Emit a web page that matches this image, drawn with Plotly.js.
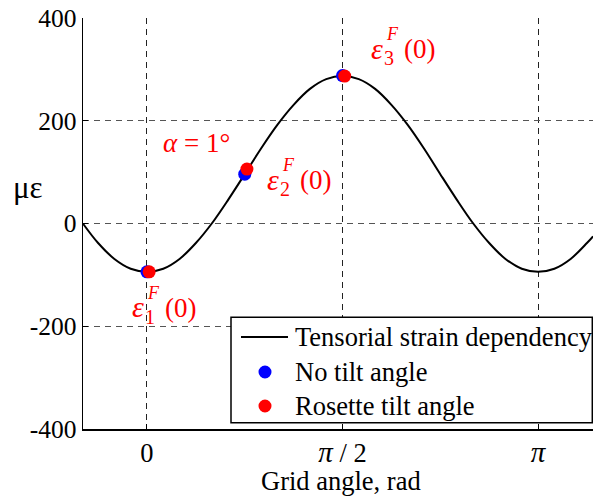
<!DOCTYPE html>
<html>
<head>
<meta charset="utf-8">
<script src="https://cdn.plot.ly/plotly-3.0.1.min.js"></script>
<style>html,body{margin:0;padding:0;background:#fff;}#chart{width:593px;height:497px;}</style>
</head>
<body>
<div id="chart"></div>
<script>
// Curve: grid angle (degrees) and tensorial strain (microstrain)
var curveAngleDeg = [-29.5, -22.5, -15, -7.5, 0, 7.5, 15, 22.5, 30, 37.5, 45, 52.5, 60, 67.5, 75, 82.5, 90,
                     97.5, 105, 112.5, 120, 127.5, 135, 142.5, 150, 157.5, 165, 172.5, 180, 187.5, 195, 202.5, 205.3];
var curveStrain   = [0, -38, -69, -88, -94, -88, -69, -38, 1, 47, 96, 146, 192, 231, 262, 281, 287,
                     281, 262, 231, 192, 146, 96, 47, 1, -38, -69, -88, -94, -88, -69, -38, -25];

// No tilt angle points (blue)
var noTiltAngleDeg = [0, 45, 90];
var noTiltStrain   = [-94, 96, 288];

// Rosette tilt angle points (red), tilt alpha = 1 degree
var tiltAngleDeg = [1, 46, 91];
var tiltStrain   = [-94, 106, 287];

var seriesNames = ['Tensorial strain dependency', 'No tilt angle', 'Rosette tilt angle'];
var xTitle = 'Grid angle, rad';
var yTitle = 'με';

var xTickVals = [0, Math.PI / 2, Math.PI];
var xTickText = ['0', '<span style="font-size:29px"><i>π</i></span> / 2', '<span style="font-size:29px"><i>π</i></span>'];
var yTickVals = [-400, -200, 0, 200, 400];
var yTickText = ['-400', '-200', '0', '200', '400'];

function toRad(a) { return a.map(function (d) { return d * Math.PI / 180; }); }

var FONT = '"Liberation Serif", "Times New Roman", serif';
var RED = '#ff0000';
var BLUE = '#0000ff';

var traces = [
  {x: toRad(curveAngleDeg), y: curveStrain, mode: 'lines', name: seriesNames[0],
   line: {color: '#000', width: 2, shape: 'spline', smoothing: 1}},
  {x: toRad(noTiltAngleDeg), y: noTiltStrain, mode: 'markers', name: seriesNames[1],
   marker: {color: BLUE, size: 13}},
  {x: toRad(tiltAngleDeg), y: tiltStrain, mode: 'markers', name: seriesNames[2],
   marker: {color: RED, size: 13}}
];

// plot area in pixels
var L = 83, R = 593, T = 18, B = 429;
function px(x) { return (x - L) / (R - L); }
function py(y) { return (B - y) / (B - T); }

var ann = [];
function txt(x, y, text, size, color, xa) {
  ann.push({xref: 'paper', yref: 'paper', x: px(x), y: py(y), text: text, showarrow: false,
            xanchor: xa || 'center', yanchor: 'middle', font: {family: FONT, size: size, color: color}});
}
function epsLabel(ex, ey, sub) {
  txt(ex, ey - 1, '<i>ε</i>', 30, RED);
  txt(ex + 15, ey - 15, '<i>F</i>', 18, RED);
  txt(ex + 12, ey + 9, sub, 20, RED);
  txt(ex + 42, ey, '(0)', 27, RED);
}
epsLabel(138, 308, '1');
epsLabel(273, 180, '2');
epsLabel(377, 49, '3');
txt(196, 143, '<i>α</i> = 1°', 27, RED);
txt(28, 187, yTitle, 31, '#000');
txt(341, 481, xTitle, 26.5, '#000');

// legend (drawn by hand)
var shapes = [
  {type: 'rect', xref: 'paper', yref: 'paper', x0: px(231), x1: px(592.3), y0: py(422.7), y1: py(317.3),
   line: {color: '#000', width: 1.5}, fillcolor: '#fff', layer: 'above'},
  {type: 'line', xref: 'paper', yref: 'paper', x0: px(241), x1: px(288), y0: py(337), y1: py(337),
   line: {color: '#000', width: 2}, layer: 'above'},
  {type: 'circle', xref: 'paper', yref: 'paper', x0: px(258.5), x1: px(271.5), y0: py(365.5), y1: py(378.5),
   line: {width: 0}, fillcolor: BLUE, layer: 'above'},
  {type: 'circle', xref: 'paper', yref: 'paper', x0: px(258.5), x1: px(271.5), y0: py(399.5), y1: py(412.5),
   line: {width: 0}, fillcolor: RED, layer: 'above'}
];
txt(293, 337, seriesNames[0], 26.5, '#000', 'left');
txt(293, 372, seriesNames[1], 26.5, '#000', 'left');
txt(293, 406, seriesNames[2], 26.5, '#000', 'left');

var layout = {
  width: 593, height: 497,
  margin: {l: L, r: 593 - R, t: T, b: 497 - B},
  paper_bgcolor: '#fff', plot_bgcolor: '#fff',
  showlegend: false,
  xaxis: {range: [-0.514, 3.583], tickvals: xTickVals, ticktext: xTickText,
          showgrid: true, gridcolor: '#222', griddash: '6px,5px', gridwidth: 1,
          showline: true, linecolor: '#000', linewidth: 1.5, zeroline: false,
          ticks: 'inside', ticklen: 5, tickcolor: '#000',
          tickfont: {family: FONT, size: 26.5, color: '#000'},
          fixedrange: true},
  yaxis: {range: [-400, 400], tickvals: yTickVals, ticktext: yTickText,
          showgrid: true, gridcolor: '#555', griddash: '6px,5px', gridwidth: 1,
          showline: true, linecolor: '#000', linewidth: 1.5, zeroline: false,
          ticks: 'inside', ticklen: 5, tickcolor: '#000',
          tickfont: {family: FONT, size: 25.5, color: '#000'},
          fixedrange: true},
  shapes: shapes,
  annotations: ann
};

Plotly.newPlot('chart', traces, layout, {displayModeBar: false, staticPlot: true});
</script>
</body>
</html>
